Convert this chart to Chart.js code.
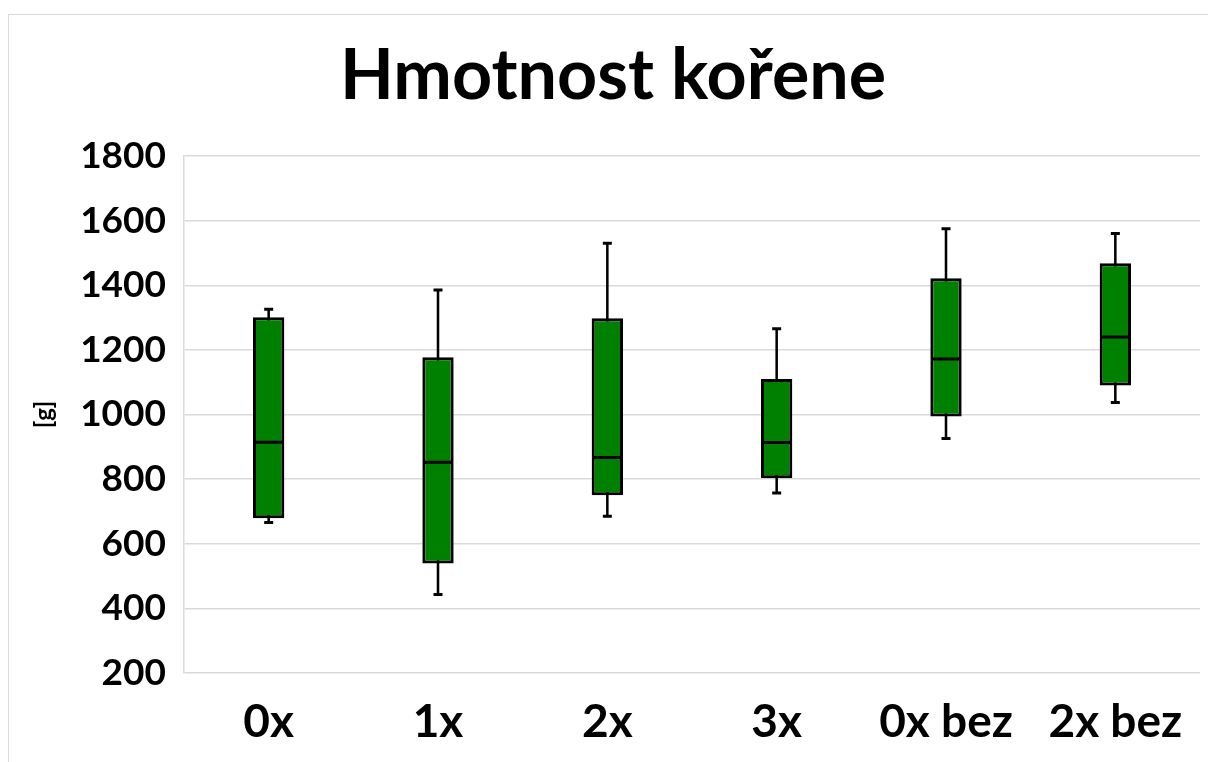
<!DOCTYPE html>
<html>
<head>
<meta charset="utf-8">
<script src="https://cdn.jsdelivr.net/npm/chart.js@4/dist/chart.umd.min.js"></script>
<style>
  html, body { margin: 0; padding: 0; background: #fff; overflow: hidden; }
  #frame { position: absolute; left: 8px; top: 14px; width: 1300px; height: 900px; border: 1px solid #d9d9d9; }
  #chart { position: absolute; left: 0; top: 0; }
</style>
</head>
<body>
<div id="frame"></div>
<canvas id="chart" width="1208" height="762"></canvas>
<script>
// hodnoty (krabicový graf)
const labels = ["0x", "1x", "2x", "3x", "0x bez", "2x bez"];
const minVals = [666, 443, 685, 757, 926, 1037];
const q1Vals = [679, 539, 750, 803, 994, 1090];
const medVals = [914, 852, 867, 913, 1172, 1240];
const q3Vals = [1301, 1177, 1298, 1110, 1422, 1468];
const maxVals = [1326, 1385, 1530, 1265, 1575, 1560];
const yTicks = [200, 400, 600, 800, 1000, 1200, 1400, 1600, 1800];

const boxColor = "#008000";
const gridColor = "#d9d9d9";
const fontFamily = "Lato, 'Open Sans', sans-serif";

const boxes = labels.map((_, i) => [q1Vals[i], q3Vals[i]]);
const whisker = labels.map((_, i) => [minVals[i], maxVals[i]]);

const boxWidth = 0.185;

// vodorovná čárka (medián, konce vousů)
function tick(label, data, radius, order) {
  return {
    type: "line",
    label: label,
    data: data,
    showLine: false,
    pointStyle: "line",
    pointRadius: radius,
    pointBorderWidth: 3,
    pointBorderColor: "#000",
    order: order,
  };
}

const chartData = {
  labels: labels,
  datasets: [
    tick("max", maxVals, 4.5, 0),
    tick("min", minVals, 4.5, 0),
    tick("median", medVals, 14.5, 0),
    {
      type: "bar",
      label: "box",
      data: boxes,
      backgroundColor: boxColor,
      borderColor: "#000",
      borderWidth: 3,
      borderSkipped: false,
      grouped: false,
      barPercentage: boxWidth,
      categoryPercentage: 1,
      order: 1,
    },
    {
      type: "bar",
      label: "whisker",
      data: whisker,
      backgroundColor: "#000",
      borderWidth: 0,
      grouped: false,
      barPercentage: 0.015,
      categoryPercentage: 1,
      order: 2,
    },
  ],
};

const canvas = document.querySelector("#chart");

const chartSettings = {
  data: chartData,
  options: {
    responsive: false,
    animation: false,
    events: [],
    layout: {
      autoPadding: false,
      padding: { left: 26, right: 8, top: 0, bottom: 0 },
    },
    plugins: {
      legend: { display: false },
      tooltip: { enabled: false },
      title: {
        display: true,
        text: "Hmotnost kořene",
        color: "#000",
        font: { family: fontFamily, size: 70, weight: "bold", lineHeight: 1 },
        padding: { top: 41, bottom: 45 },
      },
    },
    scales: {
      x: {
        type: "category",
        offset: true,
        grid: { display: false, drawTicks: false },
        border: { display: false },
        ticks: {
          color: "#000",
          font: { family: fontFamily, size: 46, weight: "bold" },
          padding: 22,
          maxRotation: 0,
        },
        afterFit: (scale) => {
          scale.height = 89;
        },
      },
      y: {
        min: 200,
        max: 1800,
        afterBuildTicks: (scale) => {
          scale.ticks = yTicks.map((v) => ({ value: v }));
        },
        grid: { color: gridColor, lineWidth: 1.5, drawTicks: false },
        border: { display: true, color: gridColor, width: 1.5 },
        ticks: {
          color: "#000",
          font: { family: fontFamily, size: 37, weight: "bold" },
          padding: 18,
          callback: (value) => String(value),
        },
        title: {
          display: true,
          text: "[g]",
          color: "#000",
          font: { family: fontFamily, size: 24, weight: "bold", lineHeight: 1.2 },
          padding: { top: 4, bottom: 0 },
        },
        afterFit: (scale) => {
          scale.width = 158;
        },
      },
    },
  },
};

const chart1 = new Chart(canvas, chartSettings);
</script>
</body>
</html>
